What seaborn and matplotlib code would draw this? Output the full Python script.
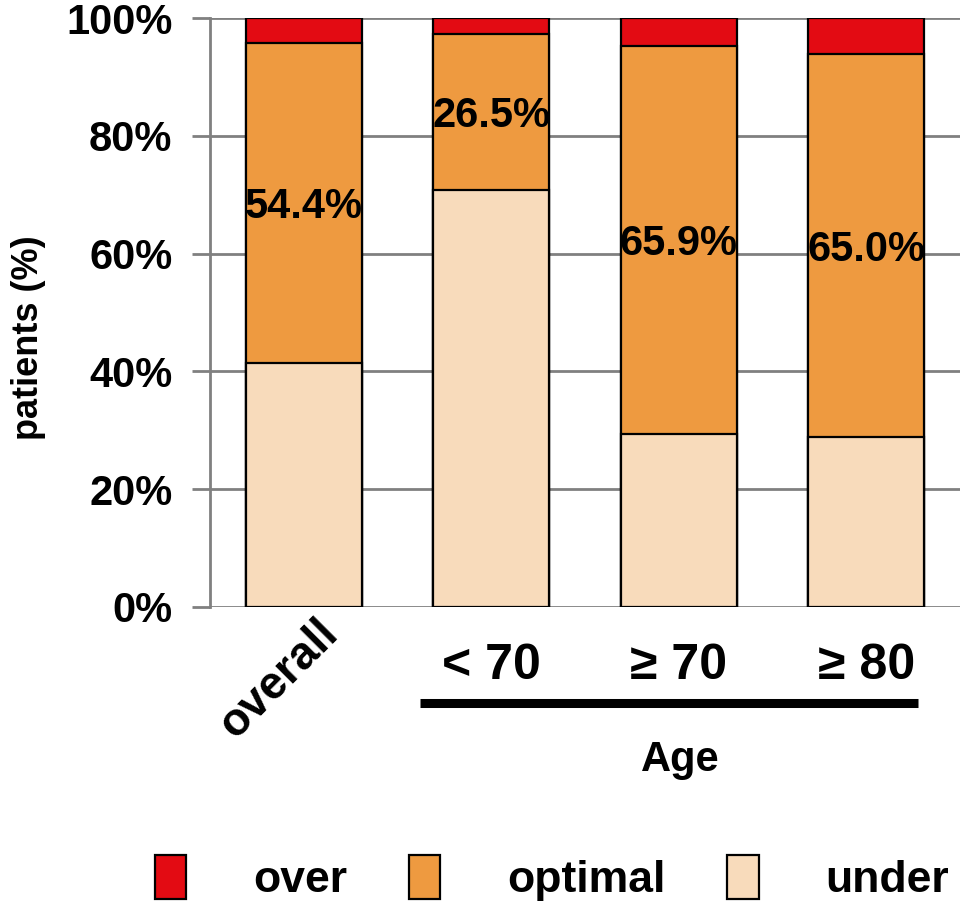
import matplotlib
matplotlib.use("Agg")
import matplotlib.pyplot as plt
import matplotlib.transforms as mtransforms
from matplotlib.patches import Patch
from matplotlib.lines import Line2D
import seaborn as sns
import pandas as pd
import numpy as np

categories = ["overall", "< 70", "≥ 70", "≥ 80"]
under = [41.4, 70.8, 29.4, 28.9]
optimal = [54.4, 26.5, 65.9, 65.0]
over = [4.2, 2.7, 4.7, 6.1]
yticks = [0, 20, 40, 60, 80, 100]
ytick_labels = ["0%", "20%", "40%", "60%", "80%", "100%"]

c_over = "#E30B13"
c_opt = "#EE9A40"
c_under = "#F8DBBB"

sns.set_style("white")
plt.rcParams["font.family"] = ["Liberation Sans", "DejaVu Sans"]
plt.rcParams["font.weight"] = "bold"
plt.rcParams["text.color"] = "black"
plt.rcParams["axes.labelcolor"] = "black"
plt.rcParams["xtick.labelcolor"] = "black"
plt.rcParams["ytick.labelcolor"] = "black"

df = pd.DataFrame({"cat": categories, "under": under, "optimal": optimal, "over": over})
df["lvl_opt"] = df["under"] + df["optimal"]
df["lvl_over"] = df["lvl_opt"] + df["over"]

fig = plt.figure(figsize=(9.65, 9.07), dpi=100)
ax = fig.add_axes([210 / 965, 1 - 607 / 907, 750 / 965, 589 / 907])

ax.set_axisbelow(True)
for y in yticks:
    ax.axhline(y, color="#808080", lw=2, zorder=0)

kw = dict(width=0.62, edgecolor="black", linewidth=1.6, ax=ax, order=categories)
sns.barplot(data=df, x="cat", y="lvl_over", color=c_over, **kw)
sns.barplot(data=df, x="cat", y="lvl_opt", color=c_opt, **kw)
sns.barplot(data=df, x="cat", y="under", color=c_under, **kw)
n = len(categories)
for i, p in enumerate(ax.patches):
    p.set_facecolor([c_over, c_opt, c_under][i // n])

for i, (u, o) in enumerate(zip(under, optimal)):
    ax.text(i, u + o / 2, f"{o:.1f}%", ha="center", va="center_baseline",
            fontsize=30, fontweight="bold", color="black")

ax.set_xlim(-0.5, 3.5)
ax.set_ylim(0, 100)
ax.set_yticks(yticks)
ax.set_yticklabels(ytick_labels, fontsize=30, fontweight="bold")
ax.tick_params(axis="y", length=13, width=2, color="#808080", pad=14, left=True)
ax.tick_params(axis="x", length=0, pad=26, labelsize=36)
for s in ["top", "right", "bottom"]:
    ax.spines[s].set_visible(False)
ax.spines["left"].set_color("#808080")
ax.spines["left"].set_linewidth(2)
ax.set_xlabel("")
ax.set_ylabel("patients (%)", fontsize=26, fontweight="bold")
ax.yaxis.set_label_coords(-0.219, 0.457)

labels = ax.get_xticklabels()
for lab in labels:
    lab.set_fontweight("bold")
lab0 = labels[0]
lab0.set_rotation(45)
lab0.set_ha("right")
lab0.set_va("top")
lab0.set_rotation_mode("anchor")
lab0.set_fontsize(33)
lab0.set_transform(lab0.get_transform() + mtransforms.ScaledTranslation(0.12, 0.32, fig.dpi_scale_trans))

fig.add_artist(Line2D([420 / 965, 918 / 965], [1 - 703 / 907, 1 - 703 / 907],
                      color="black", lw=6.5, solid_capstyle="butt", transform=fig.transFigure))
fig.text(680 / 965, 1 - 760 / 907, "Age", ha="center", va="center",
         fontsize=30, fontweight="bold")

handles = [Patch(facecolor=c_over, edgecolor="black", linewidth=1.6, label="over"),
           Patch(facecolor=c_opt, edgecolor="black", linewidth=1.6, label="optimal"),
           Patch(facecolor=c_under, edgecolor="black", linewidth=1.6, label="under")]
fig.legend(handles=handles, loc="center", bbox_to_anchor=(552 / 965, 1 - 878 / 907),
           ncol=3, frameon=False, prop={"size": 32, "weight": "bold"},
           handlelength=0.7, handleheight=1.15, handletextpad=1.5, columnspacing=1.4)

fig.savefig("out.png", dpi=100)
